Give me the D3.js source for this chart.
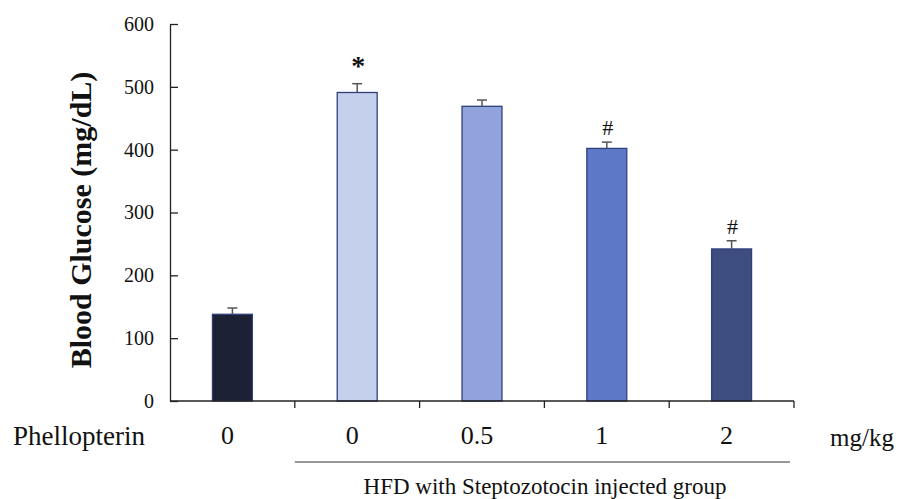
<!DOCTYPE html>
<html><head><meta charset="utf-8">
<script src="https://cdn.jsdelivr.net/npm/d3@7"></script>
<style>body{margin:0;background:#fff}svg{display:block}</style>
</head><body><svg id="c" width="905" height="499"></svg>
<script>
const categories = ["0", "0", "0.5", "1", "2"];
const values = [138, 491, 469, 402, 242];
const errors = [10, 14, 10, 10, 13];
const marks = ["", "*", "", "#", "#"];
const colors = ["#1b2035", "#c5d0ec", "#90a3db", "#5e78c8", "#3d4d7f"];
const yTicks = [0, 100, 200, 300, 400, 500, 600];

const FONT = '"Liberation Serif"';
const svg = d3.select("#c");
const L = 170, R = 794, T = 24, B = 401;
const x = d3.scaleBand().domain(d3.range(categories.length)).range([L, R]).paddingInner(0.68).paddingOuter(0.34);
const y = d3.scaleLinear().domain([0, 600]).range([B, T]);
const cxOf = i => x(i) + x.bandwidth() / 2;

// bars
svg.selectAll("rect.bar").data(values).enter().append("rect")
  .attr("x", (d, i) => x(i)).attr("y", d => y(d))
  .attr("width", x.bandwidth()).attr("height", d => y(0) - y(d))
  .attr("fill", (d, i) => colors[i]).attr("stroke", "#2f3f7c").attr("stroke-width", 1.3);

// error bars
const eb = svg.append("g").attr("stroke", "#555").attr("stroke-width", 1.5);
values.forEach((v, i) => {
  const cx = cxOf(i);
  eb.append("line").attr("x1", cx).attr("x2", cx).attr("y1", y(v)).attr("y2", y(v + errors[i]));
  eb.append("line").attr("x1", cx - 5).attr("x2", cx + 5).attr("y1", y(v + errors[i])).attr("y2", y(v + errors[i]));
});

// significance marks
values.forEach((v, i) => {
  if (!marks[i]) return;
  const star = marks[i] === "*";
  svg.append("text").attr("x", cxOf(i) + 1).attr("y", y(v + errors[i]) - (star ? 9 : 7))
    .attr("text-anchor", "middle").attr("font-size", star ? 28 : 22)
    .attr("font-weight", star ? "bold" : "normal").attr("fill", "#111").style("font-family", FONT).text(marks[i]);
});

// y axis
const yAxis = d3.axisLeft(y).tickValues(yTicks).tickSizeInner(-8).tickSizeOuter(0).tickPadding(16);
const gy = svg.append("g").attr("transform", `translate(${L},0)`).call(yAxis);
gy.attr("font-family", null);
gy.selectAll("text").attr("font-size", 20).attr("fill", "#111").style("font-family", FONT);
gy.selectAll("line,path").attr("stroke", "#222").attr("stroke-width", 1.3);

// x axis with boundary ticks
svg.append("line").attr("x1", L).attr("x2", R).attr("y1", B).attr("y2", B).attr("stroke", "#222").attr("stroke-width", 1.3);
d3.range(1, categories.length + 1).forEach(k => {
  const tx = L + k * (R - L) / categories.length;
  svg.append("line").attr("x1", tx).attr("x2", tx).attr("y1", B).attr("y2", B + 7).attr("stroke", "#222").attr("stroke-width", 1.3);
});

// category labels
categories.forEach((c, i) => {
  svg.append("text").attr("x", cxOf(i) - 5).attr("y", 444).attr("text-anchor", "middle")
    .attr("font-size", 26).attr("fill", "#111").style("font-family", FONT).text(c);
});
svg.append("text").attr("x", 13).attr("y", 445).attr("font-size", 27).attr("fill", "#111").style("font-family", FONT).text("Phellopterin");
svg.append("text").attr("x", 894).attr("y", 446).attr("text-anchor", "end").attr("font-size", 25).attr("fill", "#111").style("font-family", FONT).text("mg/kg");

// group line & label
const gx1 = L + (R - L) / categories.length;
svg.append("line").attr("x1", gx1).attr("x2", R - 4).attr("y1", 462).attr("y2", 462).attr("stroke", "#333").attr("stroke-width", 1.2);
svg.append("text").attr("x", 545).attr("y", 494).attr("text-anchor", "middle").attr("font-size", 23).attr("fill", "#111")
  .style("font-family", FONT).text("HFD with Steptozotocin injected group");

// y title
svg.append("text").attr("transform", `translate(91,220) rotate(-90)`).attr("text-anchor", "middle")
  .attr("font-size", 30).attr("font-weight", "bold").attr("fill", "#111").style("font-family", FONT).text("Blood Glucose (mg/dL)");
</script></body></html>
